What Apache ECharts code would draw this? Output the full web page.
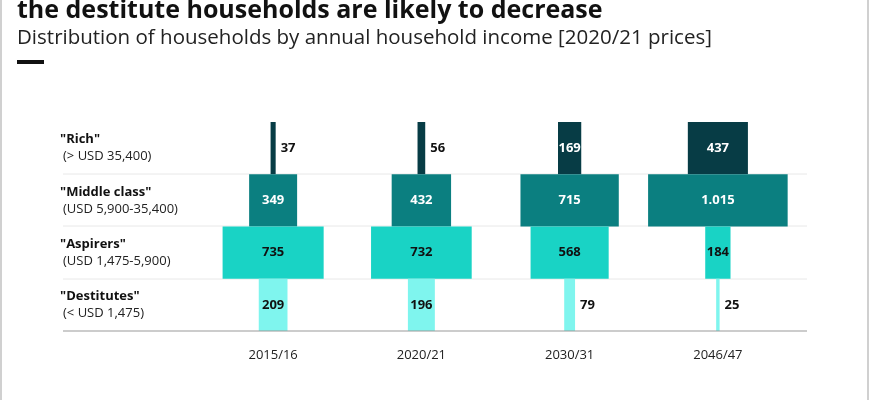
<!DOCTYPE html>
<html>
<head>
<meta charset="utf-8">
<script src="https://cdn.jsdelivr.net/npm/echarts@6/dist/echarts.min.js"></script>
<style>
  html, body { margin: 0; padding: 0; background: #fff; }
  #chart { width: 870px; height: 400px; }
</style>
</head>
<body>
<div id="chart"></div>
<script>
// periods on the x axis
var periods = ['2015/16', '2020/21', '2030/31', '2046/47'];
// income groups, top to bottom
var groups = ['"Rich"', '"Middle class"', '"Aspirers"', '"Destitutes"'];
var groupRanges = ['(> USD 35,400)', '(USD 5,900-35,400)', '(USD 1,475-5,900)', '(< USD 1,475)'];
// households (millions), one array per group, in period order
var rich = [37, 56, 169, 437];
var middle = [349, 432, 715, 1015];
var aspirers = [735, 732, 568, 184];
var destitutes = [209, 196, 79, 25];
var valueLabels = [
    ['37', '56', '169', '437'],
    ['349', '432', '715', '1.015'],
    ['735', '732', '568', '184'],
    ['209', '196', '79', '25']
];

var groupColors = ['#073c45', '#0b7f80', '#19d3c5', '#7ff5ee'];
var labelColors = ['#fff', '#fff', '#111', '#111'];
var pxPerUnit = 0.1375;
var FONT = '"Open Sans"';

var rows = [rich, middle, aspirers, destitutes];
var data = [];
rows.forEach(function(vals, r) {
    vals.forEach(function(v, c) {
        data.push([c, r, v]);
    });
});

function renderBar(params, api) {
    var c = api.value(0), r = api.value(1), v = api.value(2);
    var p = api.coord([c, r]);
    var h = api.size([0, 1])[1];
    var w = v * pxPerUnit;
    var inside = w > 20;
    var txt = valueLabels[r][c];
    return {
        type: 'group',
        children: [{
            type: 'rect',
            shape: { x: p[0] - w / 2, y: p[1] - h / 2, width: w, height: h },
            style: { fill: groupColors[r] }
        }, {
            type: 'text',
            style: {
                text: txt,
                x: inside ? p[0] : p[0] + w / 2 + 5,
                y: p[1],
                align: inside ? 'center' : 'left',
                verticalAlign: 'middle',
                fill: inside ? labelColors[r] : '#111',
                font: 'bold 13px ' + FONT
            }
        }]
    };
}

var sepY = [174, 226, 279];
var graphics = [
    { type: 'rect', shape: { x: 1, y: -5, width: 867, height: 420 }, style: { fill: 'none', stroke: '#d0d0d0', lineWidth: 2 } },
    { type: 'text', style: { text: 'the destitute households are likely to decrease', x: 17, y: 11, verticalAlign: 'middle', font: 'bold 25px ' + FONT, fill: '#111' } },
    { type: 'text', style: { text: 'Distribution of households by annual household income [2020/21 prices]', x: 17, y: 38, verticalAlign: 'middle', font: '20.5px ' + FONT, fill: '#222' } },
    { type: 'rect', shape: { x: 17, y: 60, width: 27, height: 4 }, style: { fill: '#111' } },
    { type: 'line', shape: { x1: 63, y1: 331, x2: 807, y2: 331 }, style: { stroke: '#999', lineWidth: 1 }, z: 10 }
];
sepY.forEach(function(y) {
    graphics.push({ type: 'line', shape: { x1: 63, y1: y, x2: 807, y2: y }, style: { stroke: '#e8e8e8', lineWidth: 1 }, z: -1 });
});

var chart = echarts.init(document.getElementById('chart'));
chart.setOption({
    animation: false,
    grid: { left: 199, right: 78, top: 122, bottom: 69 },
    xAxis: {
        type: 'category',
        data: periods,
        axisLine: { show: false },
        axisTick: { show: false },
        axisLabel: { margin: 18, fontSize: 13, color: '#222', fontFamily: FONT }
    },
    yAxis: {
        type: 'category',
        data: groups,
        inverse: true,
        axisLine: { show: false },
        axisTick: { show: false },
        axisLabel: {
            align: 'left',
            margin: 139,
            formatter: function(v, i) {
                return '{n|' + v + '}\n{r|' + groupRanges[i] + '}';
            },
            rich: {
                n: { fontSize: 13, fontWeight: 'bold', color: '#111', fontFamily: FONT, lineHeight: 17 },
                r: { fontSize: 13, color: '#222', fontFamily: FONT, lineHeight: 17, padding: [0, 0, 0, 3] }
            }
        },
        splitLine: { show: false }
    },
    series: [{
        type: 'custom',
        renderItem: renderBar,
        data: data,
        encode: { x: 0, y: 1 }
    }],
    graphic: graphics
});
</script>
</body>
</html>
